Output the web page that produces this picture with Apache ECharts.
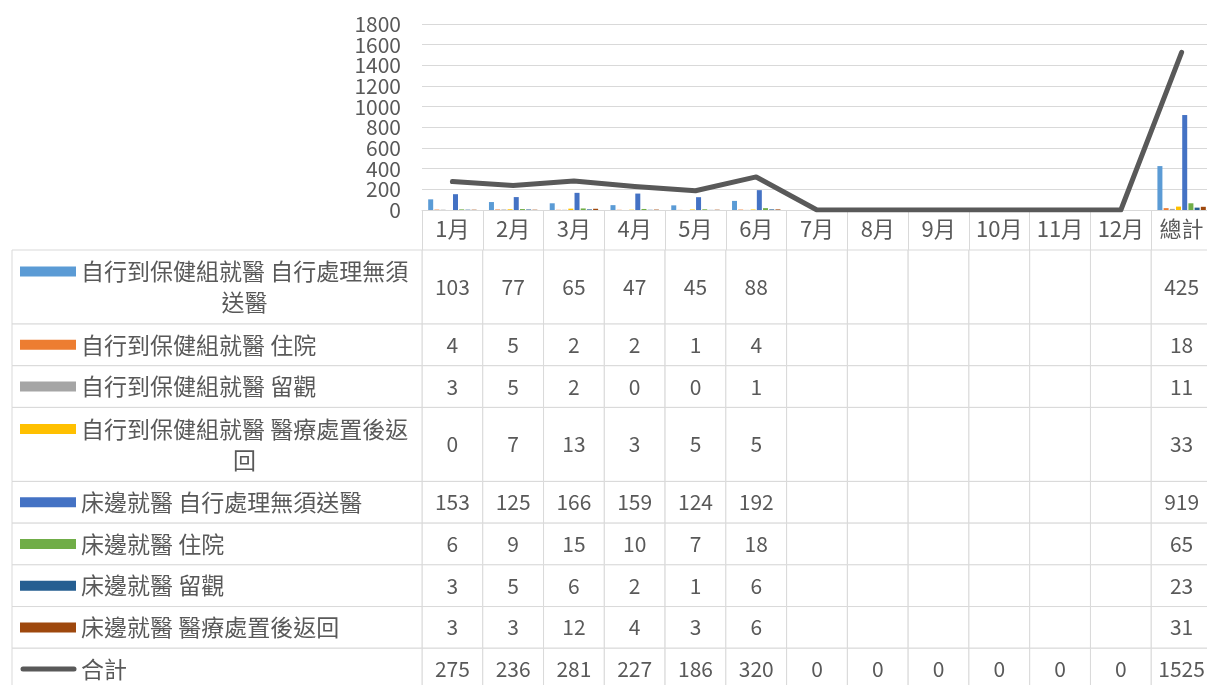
<!DOCTYPE html>
<html><head><meta charset="utf-8">
<script src="https://cdn.jsdelivr.net/npm/echarts@6/dist/echarts.min.js"></script>
<style>html,body{margin:0;padding:0;background:#fff;}#c{width:1207px;height:685px;}</style>
</head><body><div id="c"></div>
<script>
// ---------------- data ----------------
const categories = ['1月','2月','3月','4月','5月','6月','7月','8月','9月','10月','11月','12月','總計'];
const seriesNames = [
  '自行到保健組就醫 自行處理無須送醫',
  '自行到保健組就醫 住院',
  '自行到保健組就醫 留觀',
  '自行到保健組就醫 醫療處置後返回',
  '床邊就醫 自行處理無須送醫',
  '床邊就醫 住院',
  '床邊就醫 留觀',
  '床邊就醫 醫療處置後返回'
];
const selfNoTransfer   = [103, 77, 65, 47, 45, 88, null, null, null, null, null, null, 425];
const selfHospital     = [4, 5, 2, 2, 1, 4, null, null, null, null, null, null, 18];
const selfObserve      = [3, 5, 2, 0, 0, 1, null, null, null, null, null, null, 11];
const selfReturn       = [0, 7, 13, 3, 5, 5, null, null, null, null, null, null, 33];
const bedNoTransfer    = [153, 125, 166, 159, 124, 192, null, null, null, null, null, null, 919];
const bedHospital      = [6, 9, 15, 10, 7, 18, null, null, null, null, null, null, 65];
const bedObserve       = [3, 5, 6, 2, 1, 6, null, null, null, null, null, null, 23];
const bedReturn        = [3, 3, 12, 4, 3, 6, null, null, null, null, null, null, 31];
const totalName = '合計';
const totals = [275, 236, 281, 227, 186, 320, 0, 0, 0, 0, 0, 0, 1525];
const yTicks = [0, 200, 400, 600, 800, 1000, 1200, 1400, 1600, 1800];
const yMax = 1800, yStep = 200;

const seriesValues = [selfNoTransfer, selfHospital, selfObserve, selfReturn,
                      bedNoTransfer, bedHospital, bedObserve, bedReturn];

// ---------------- style ----------------
const colors = ['#5B9BD5','#ED7D31','#A5A5A5','#FFC000','#4472C4','#70AD47','#255E91','#9E480E'];
const lineColor = '#595959';
const textColor = '#595959';
const borderColor = '#d9d9d9';
const FONT = '"Noto Sans CJK TC","Noto Sans CJK SC","Noto Sans",sans-serif';
const LABEL_SIZE = 23, NUM_SIZE = 21, AXIS_SIZE = 21, HEAD_SIZE = 22;
const Y_LABEL_GAP = 21;
const LABEL_COL_W = 410;     // width of the legend/label column of the data table
const SWATCH_X = 8, SWATCH_W = 56, SWATCH_H = 10;
const TEXT_X = 69, TEXT_AVAIL = 340;
const ROW_PX = 41.7, WRAP_WEIGHT = 1.775, LINE_GAP = 31;

// table rows
const tableRows = seriesNames.map((n, i) => ({name: n, values: seriesValues[i], color: colors[i], kind: 'bar'}))
  .concat([{name: totalName, values: totals, color: lineColor, kind: 'line'}]);

const mctx = document.createElement('canvas').getContext('2d');
mctx.font = LABEL_SIZE + 'px ' + FONT;
function splitLabel(text) {
  if (mctx.measureText(text).width <= TEXT_AVAIL) return [text];
  let i = text.length;
  while (i > 0 && mctx.measureText(text.slice(0, i)).width > TEXT_AVAIL) i--;
  return [text.slice(0, i), text.slice(i)];
}
tableRows.forEach(r => { r.lines = splitLabel(r.name); r.weight = r.lines.length > 1 ? WRAP_WEIGHT : 1; });
const rowStart = [];
let acc = 0;
tableRows.forEach(r => { rowStart.push(acc); acc += r.weight; });
const totalUnits = acc;

const cellData = [];
tableRows.forEach((r, ri) => categories.forEach((c, ci) => cellData.push([ci, ri])));
const labelData = tableRows.map((r, ri) => [0, ri]);
const yTickData = yTicks.map(v => [0, v]);

function rowY(api, ri) {
  const y0 = api.coord([0, rowStart[ri]])[1];
  const y1 = api.coord([0, rowStart[ri] + tableRows[ri].weight])[1];
  return [y0, y1];
}

const chart = echarts.init(document.getElementById('c'), null, {renderer: 'canvas'});
const barSeries = seriesNames.map((n, i) => ({
  name: n, type: 'bar', xAxisIndex: 0, yAxisIndex: 0,
  data: seriesValues[i], barWidth: 5, barGap: '24%',
  itemStyle: {color: colors[i]}, z: 2
}));

chart.setOption({
  animation: false,
  textStyle: {fontFamily: FONT},
  grid: [
    {left: 422, right: -5, top: 24, bottom: 475, outerBoundsMode: 'none', containLabel: false},
    {left: 422, right: -5, top: 250, height: totalUnits * ROW_PX, outerBoundsMode: 'none', containLabel: false}
  ],
  xAxis: [
    {type: 'category', gridIndex: 0, data: categories, boundaryGap: true,
     axisLine: {show: true, lineStyle: {color: borderColor, width: 1}},
     axisTick: {show: true, length: 40, lineStyle: {color: borderColor}},
     axisLabel: {color: textColor, fontSize: HEAD_SIZE, margin: 8, fontFamily: FONT, interval: 0}},
    {type: 'category', gridIndex: 1, data: categories, show: false, boundaryGap: true}
  ],
  yAxis: [
    {type: 'value', gridIndex: 0, min: 0, max: yMax, interval: yStep,
     axisLine: {show: false}, axisTick: {show: false}, axisLabel: {show: false},
     splitLine: {lineStyle: {color: borderColor, width: 1}}},
    {type: 'value', gridIndex: 1, min: 0, max: totalUnits, inverse: true, show: false}
  ],
  series: barSeries.concat([
    {name: totalName, type: 'line', xAxisIndex: 0, yAxisIndex: 0, data: totals,
     symbol: 'none', lineStyle: {color: lineColor, width: 5, cap: 'round', join: 'round'}, z: 5},
    {type: 'custom', name: 'yLabels', xAxisIndex: 0, yAxisIndex: 0, clip: false,
     data: yTickData, encode: {x: 0, y: 1}, silent: true,
     renderItem: function (params, api) {
       const v = api.value(1);
       const p = api.coord([0, v]);
       const gridLeft = p[0] - api.size([1, 0])[0] / 2;
       return {type: 'text', x: gridLeft - Y_LABEL_GAP, y: p[1],
         style: {text: String(v), fill: textColor, font: AXIS_SIZE + 'px ' + FONT, align: 'right', verticalAlign: 'middle'}};
     }},
    {type: 'custom', name: 'cells', xAxisIndex: 1, yAxisIndex: 1, clip: false,
     data: cellData, encode: {x: 0, y: 1},
     renderItem: function (params, api) {
       const ci = api.value(0), ri = api.value(1);
       const cx = api.coord([ci, 0])[0];
       const w = api.size([1, 0])[0];
       const [y0, y1] = rowY(api, ri);
       const v = tableRows[ri].values[ci];
       const children = [{
         type: 'rect', shape: {x: cx - w / 2, y: y0, width: w, height: y1 - y0},
         style: {fill: '#fff', stroke: borderColor, lineWidth: 1}
       }];
       if (v !== null && v !== undefined) {
         children.push({type: 'text', x: cx, y: (y0 + y1) / 2,
           style: {text: String(v), fill: textColor, font: NUM_SIZE + 'px ' + FONT, align: 'center', verticalAlign: 'middle'}});
       }
       return {type: 'group', children: children};
     }},
    {type: 'custom', name: 'labels', xAxisIndex: 1, yAxisIndex: 1, clip: false,
     data: labelData, encode: {x: 0, y: 1},
     renderItem: function (params, api) {
       const ri = api.value(1);
       const row = tableRows[ri];
       const w = api.size([1, 0])[0];
       const gridLeft = api.coord([0, 0])[0] - w / 2;
       const x0 = gridLeft - LABEL_COL_W;
       const [y0, y1] = rowY(api, ri);
       const mid = (y0 + y1) / 2;
       const firstY = row.lines.length > 1 ? mid - LINE_GAP / 2 : mid;
       const children = [{
         type: 'rect', shape: {x: x0, y: y0, width: LABEL_COL_W, height: y1 - y0},
         style: {fill: '#fff', stroke: borderColor, lineWidth: 1}
       }];
       if (row.kind === 'bar') {
         children.push({type: 'rect', shape: {x: x0 + SWATCH_X, y: firstY - SWATCH_H / 2, width: SWATCH_W, height: SWATCH_H},
           style: {fill: row.color}});
       } else {
         children.push({type: 'line', shape: {x1: x0 + SWATCH_X + 3, y1: firstY, x2: x0 + SWATCH_X + SWATCH_W - 2, y2: firstY},
           style: {stroke: row.color, lineWidth: 5, lineCap: 'round'}});
       }
       const w1 = mctx.measureText(row.lines[0]).width;
       children.push({type: 'text', x: x0 + TEXT_X, y: firstY,
         style: {text: row.lines[0], fill: textColor, font: LABEL_SIZE + 'px ' + FONT, align: 'left', verticalAlign: 'middle'}});
       if (row.lines.length > 1) {
         children.push({type: 'text', x: x0 + TEXT_X + w1 / 2, y: firstY + LINE_GAP,
           style: {text: row.lines[1], fill: textColor, font: LABEL_SIZE + 'px ' + FONT, align: 'center', verticalAlign: 'middle'}});
       }
       return {type: 'group', children: children};
     }}
  ])
});
</script>
</body></html>
